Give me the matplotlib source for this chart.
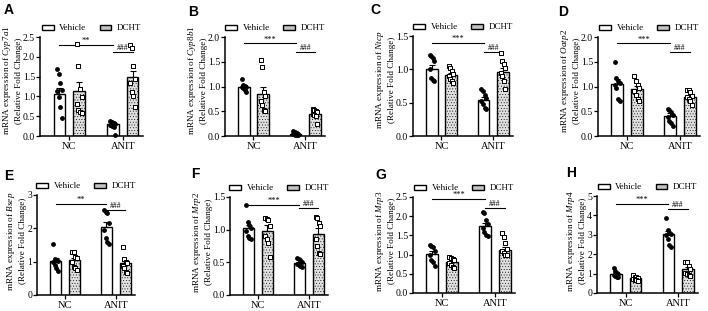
import matplotlib
matplotlib.use("Agg")
import matplotlib.pyplot as plt
from matplotlib.patches import Patch
import numpy as np

plt.rcParams['font.family'] = ['Liberation Serif', 'DejaVu Serif']
plt.rcParams['mathtext.fontset'] = 'custom'
plt.rcParams['mathtext.it'] = 'Liberation Serif:italic'
plt.rcParams['mathtext.rm'] = 'Liberation Serif'
plt.rcParams['hatch.color'] = '#a8a8a8'
plt.rcParams['hatch.linewidth'] = 0.3

# data
letters = ['A', 'B', 'C', 'D', 'E', 'F', 'G', 'H']
genes = ['Cyp7a1', 'Cyp8b1', 'Ntcp', 'Oatp2', 'Bsep', 'Mrp2', 'Mrp3', 'Mrp4']
groups = ['NC', 'ANIT']
treatments = ['Vehicle', 'DCHT']
ymax = [2.5, 2.0, 1.5, 2.0, 3, 1.5, 2.5, 5]
ystep = [0.5, 0.5, 0.5, 0.5, 1, 0.5, 0.5, 1]

# bar order: NC-Vehicle, NC-DCHT, ANIT-Vehicle, ANIT-DCHT
means = [[1.07, 1.13, 0.31, 1.50],
         [1.00, 0.84, 0.05, 0.44],
         [1.01, 0.91, 0.54, 0.96],
         [1.05, 0.95, 0.40, 0.79],
         [1.02, 1.04, 2.05, 0.96],
         [1.02, 0.98, 0.49, 0.93],
         [1.02, 0.81, 1.75, 1.12],
         [1.00, 0.75, 3.05, 1.25]]
sems = [[0.15, 0.23, 0.05, 0.15],
        [0.03, 0.15, 0.02, 0.04],
        [0.06, 0.04, 0.04, 0.06],
        [0.10, 0.07, 0.07, 0.04],
        [0.08, 0.08, 0.15, 0.06],
        [0.05, 0.09, 0.02, 0.10],
        [0.08, 0.04, 0.08, 0.08],
        [0.07, 0.05, 0.15, 0.10]]

pts_cyp7a1 = [[1.70, 1.57, 1.35, 1.17, 1.13, 0.98, 0.73, 0.46],
              [2.33, 1.78, 1.19, 0.98, 0.82, 0.65, 0.60, 0.57],
              [0.37, 0.35, 0.33, 0.30, 0.28, 0.25, 0.22, 0.02],
              [2.30, 2.22, 1.78, 1.45, 1.35, 1.12, 1.00, 0.72]]
pts_cyp8b1 = [[1.15, 1.03, 1.02, 1.00, 0.99, 0.97, 0.92, 0.88],
              [1.54, 1.40, 0.88, 0.80, 0.70, 0.62, 0.52, 0.50],
              [0.10, 0.08, 0.06, 0.05, 0.04, 0.03, 0.02, 0.02],
              [0.55, 0.53, 0.50, 0.48, 0.44, 0.42, 0.40, 0.25]]
pts_ntcp = [[1.22, 1.20, 1.17, 1.13, 1.00, 0.87, 0.84, 0.83],
            [1.05, 1.02, 0.97, 0.93, 0.90, 0.85, 0.83, 0.80],
            [0.70, 0.67, 0.62, 0.57, 0.52, 0.48, 0.42, 0.40],
            [1.24, 1.12, 1.08, 1.02, 0.95, 0.90, 0.82, 0.70]]
pts_oatp2 = [[1.50, 1.17, 1.12, 1.08, 1.03, 0.97, 0.75, 0.70],
             [1.22, 1.12, 1.03, 0.97, 0.90, 0.82, 0.75, 0.70],
             [0.55, 0.52, 0.48, 0.42, 0.38, 0.30, 0.27, 0.20],
             [0.93, 0.92, 0.88, 0.80, 0.78, 0.75, 0.70, 0.63]]
pts_bsep = [[1.52, 1.08, 1.05, 1.02, 0.98, 0.90, 0.80, 0.72],
            [1.30, 1.28, 1.15, 1.12, 1.00, 0.85, 0.80, 0.75],
            [2.55, 2.50, 2.45, 2.15, 1.95, 1.70, 1.58, 1.52],
            [1.45, 1.08, 1.00, 0.95, 0.88, 0.82, 0.68, 0.65]]
pts_mrp2 = [[1.38, 1.12, 1.07, 1.03, 0.98, 0.90, 0.87, 0.85],
            [1.18, 1.17, 1.15, 1.05, 0.90, 0.85, 0.80, 0.58],
            [0.57, 0.55, 0.53, 0.50, 0.48, 0.46, 0.45, 0.43],
            [1.20, 1.18, 1.10, 1.05, 0.85, 0.75, 0.65, 0.62]]
pts_mrp3 = [[1.25, 1.22, 1.20, 1.10, 0.98, 0.85, 0.80, 0.70],
            [0.95, 0.92, 0.88, 0.85, 0.78, 0.72, 0.68, 0.65],
            [2.10, 2.08, 1.90, 1.80, 1.70, 1.60, 1.50, 1.48],
            [1.55, 1.45, 1.30, 1.15, 1.10, 1.05, 1.00, 0.98]]
pts_mrp4 = [[1.30, 1.15, 1.05, 1.00, 0.95, 0.90, 0.85, 0.80],
            [0.95, 0.85, 0.80, 0.75, 0.72, 0.68, 0.65, 0.60],
            [3.85, 3.25, 3.10, 3.05, 3.00, 2.80, 2.50, 2.35],
            [1.60, 1.58, 1.40, 1.25, 1.05, 1.00, 0.95, 0.90]]
points = [pts_cyp7a1, pts_cyp8b1, pts_ntcp, pts_oatp2,
          pts_bsep, pts_mrp2, pts_mrp3, pts_mrp4]

# significance: NC-Vehicle vs ANIT-Vehicle, ANIT-Vehicle vs ANIT-DCHT
star_y = [2.29, 1.87, 1.40, 1.87, 2.72, 1.38, 2.44, 4.6]
star_txt = ['**', '***', '***', '***', '**', '***', '***', '***']
hash_y = [2.12, 1.70, 1.26, 1.70, 2.55, 1.33, 2.22, 4.35]

# axes boxes in pixels: left, top, right, bottom
boxes = [(40, 37, 143, 136), (225, 37, 325, 136), (413, 36, 513, 136), (598, 37, 700, 136),
         (37, 195, 135, 295), (230, 197, 328, 295), (413, 197, 515, 293), (597, 196, 698, 293)]
letter_pos = [(4, 3), (188, 5), (370, 3), (558, 5), (4, 169), (191, 167), (375, 168), (566, 166)]

W, H = 708, 311
fig = plt.figure(figsize=(W / 100, H / 100), dpi=100)

grey = '#e0e0e0'
bw = 0.22
off = 0.185

for i in range(8):
    l, t, r, b = boxes[i]
    ax = fig.add_axes([l / W, 1 - b / H, (r - l) / W, (b - t) / H])
    xs = [0 - off, 0 + off, 1 - off, 1 + off]
    for k in range(4):
        dcht = k % 2 == 1
        ax.bar(xs[k], means[i][k], width=bw, facecolor=grey if dcht else 'white',
               edgecolor='black', linewidth=1.0, hatch='......' if dcht else None, zorder=2)
        ax.errorbar(xs[k], means[i][k], yerr=[[0], [sems[i][k]]], fmt='none',
                    ecolor='black', elinewidth=0.8, capsize=2.5, capthick=0.8, zorder=3)
        vals = np.array(points[i][k])
        jit = ((np.arange(len(vals)) % 4) - 1.5) * 0.03
        if dcht:
            ax.scatter(xs[k] + jit, vals, marker='s', s=9, facecolor='white',
                       edgecolor='black', linewidth=0.7, zorder=4, clip_on=False)
        else:
            ax.scatter(xs[k] + jit, vals, marker='o', s=6, color='black',
                       zorder=4, clip_on=False)

    # significance lines
    ax.plot([xs[0], xs[2]], [star_y[i], star_y[i]], color='black', lw=0.8, clip_on=False)
    ax.text((xs[0] + xs[2]) / 2, star_y[i], star_txt[i], ha='center', va='bottom', fontsize=6)
    ax.plot([xs[2], xs[3]], [hash_y[i], hash_y[i]], color='black', lw=0.8, clip_on=False)
    ax.text((xs[2] + xs[3]) / 2, hash_y[i], '###', ha='center', va='bottom', fontsize=5.5)

    ax.set_xlim(-0.55, 1.38)
    ax.set_ylim(0, ymax[i])
    ticks = np.arange(0, ymax[i] + 1e-9, ystep[i])
    ax.set_yticks(ticks)
    if ystep[i] < 1:
        ax.set_yticklabels(['%.1f' % v for v in ticks])
    else:
        ax.set_yticklabels(['%d' % v for v in ticks])
    ax.set_xticks([0, 1])
    ax.set_xticklabels(groups, fontsize=7.5)
    ax.tick_params(axis='y', labelsize=7, length=3, width=0.9, pad=0.5)
    ax.tick_params(axis='x', length=3, width=0.9, pad=1)
    for s in ['top', 'right']:
        ax.spines[s].set_visible(False)
    for s in ['left', 'bottom']:
        ax.spines[s].set_linewidth(1.1)
    ax.set_ylabel('mRNA expression of $\\mathit{%s}$\n(Relative Fold Change)' % genes[i],
                  fontsize=6.6, labelpad=0, linespacing=1.3)
    ax.yaxis.label.set_y(0.56 if i < 4 else 0.54)

    handles = [Patch(facecolor='white', edgecolor='black', linewidth=1.0),
               Patch(facecolor='#c4c4c4', edgecolor='black', linewidth=1.0)]
    ax.legend(handles, treatments, loc='lower center', bbox_to_anchor=(0.5, 1.0),
              ncol=2, frameon=False, fontsize=6.5, handlelength=1.3, handleheight=0.5,
              columnspacing=1.5, handletextpad=0.6, borderaxespad=0.1)

    fig.text(letter_pos[i][0] / W, 1 - letter_pos[i][1] / H, letters[i],
             fontsize=10, fontweight='bold', family='Liberation Sans', va='top', ha='left')

fig.savefig('out.png', dpi=100)
